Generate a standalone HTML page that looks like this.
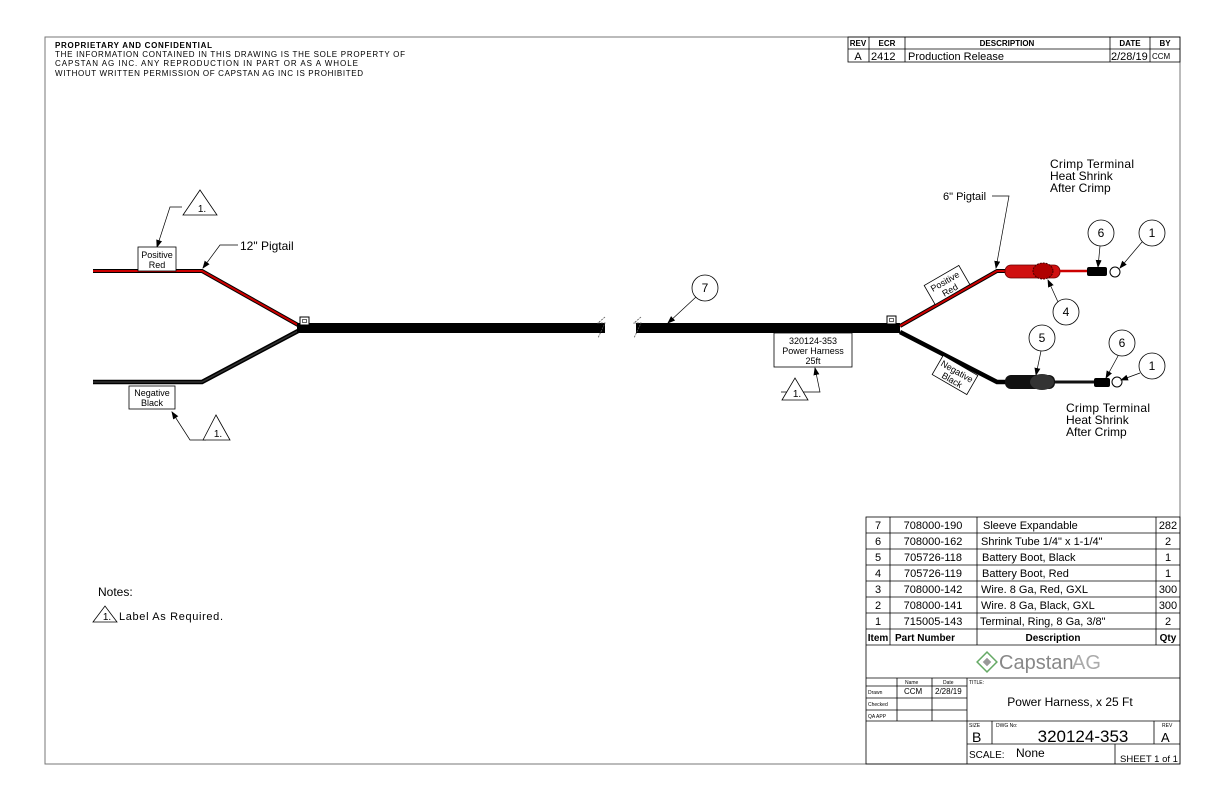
<!DOCTYPE html>
<html><head><meta charset="utf-8"><style>
html,body{margin:0;padding:0;background:#fff}
svg{display:block}
text{font-family:"Liberation Sans",sans-serif;fill:#000}
</style></head><body>
<svg width="1224" height="792" viewBox="0 0 1224 792" xmlns="http://www.w3.org/2000/svg">
<defs>
<marker id="ar" markerWidth="8" markerHeight="6" refX="7" refY="3" orient="auto" markerUnits="userSpaceOnUse"><path d="M0,0 L8,3 L0,6z" fill="#000"/></marker>
</defs>
<rect x="45" y="37" width="1135" height="727" fill="none" stroke="#777" stroke-width="1"/>
<text x="55" y="48" font-size="8" font-weight="bold" textLength="157">PROPRIETARY AND CONFIDENTIAL</text>
<text x="55" y="57" font-size="8" textLength="350">THE INFORMATION CONTAINED IN THIS DRAWING IS THE SOLE PROPERTY OF</text>
<text x="55" y="66" font-size="8" textLength="303">CAPSTAN AG INC. ANY REPRODUCTION IN PART OR AS A WHOLE</text>
<text x="55" y="76" font-size="8" textLength="308">WITHOUT WRITTEN PERMISSION OF CAPSTAN AG INC IS PROHIBITED</text>
<g stroke="#000" stroke-width="0.8" fill="none">
<rect x="848" y="37" width="332" height="25"/>
<line x1="848" y1="49" x2="1180" y2="49"/>
<line x1="869" y1="37" x2="869" y2="62"/><line x1="905" y1="37" x2="905" y2="62"/>
<line x1="1110" y1="37" x2="1110" y2="62"/><line x1="1150" y1="37" x2="1150" y2="62"/>
</g>
<g font-size="8" font-weight="bold" text-anchor="middle">
<text x="858" y="46">REV</text><text x="887" y="46">ECR</text><text x="1007" y="46">DESCRIPTION</text><text x="1130" y="46">DATE</text><text x="1165" y="46">BY</text></g>
<text x="858" y="60" font-size="11" text-anchor="middle">A</text>
<text x="871" y="60" font-size="11">2412</text>
<text x="908" y="60" font-size="11">Production Release</text>
<text x="1111" y="60" font-size="11">2/28/19</text>
<text x="1152" y="59" font-size="8">CCM</text>

<polyline points="93,271 202,271 298,325" fill="none" stroke="#000" stroke-width="4"/>
<polyline points="93,271 202,271 298,325" fill="none" stroke="#c00" stroke-width="2"/>
<polyline points="93,382 202,382 298,331" fill="none" stroke="#000" stroke-width="4.5"/>
<polyline points="93,382 202,382 298,331" fill="none" stroke="#333" stroke-width="1.5"/>
<rect x="297" y="323" width="308" height="10" fill="#000"/>
<rect x="636" y="323" width="264" height="10" fill="#000"/>
<path d="M605,317 L598,323 L605,323 L598,338" fill="none" stroke="#555" stroke-width="0.8" stroke-dasharray="2,1"/>
<path d="M641,317 L634,323 L641,323 L634,338" fill="none" stroke="#555" stroke-width="0.8" stroke-dasharray="2,1"/>
<rect x="300" y="317" width="9" height="8" fill="#fff" stroke="#000"/><rect x="302.5" y="319.5" width="4" height="3" fill="#fff" stroke="#000" stroke-width="0.6"/>
<rect x="887" y="316" width="9" height="8" fill="#fff" stroke="#000"/><rect x="889.5" y="318.5" width="4" height="3" fill="#fff" stroke="#000" stroke-width="0.6"/>

<polyline points="900,326 997,271 1007,271" fill="none" stroke="#000" stroke-width="4"/>
<polyline points="900,326 997,271 1007,271" fill="none" stroke="#c00" stroke-width="2"/>
<polyline points="900,332 997,382 1007,382" fill="none" stroke="#000" stroke-width="4.5"/>
<rect x="1005" y="265" width="55" height="13" rx="6" fill="#d01010" stroke="#600" stroke-width="0.8"/>
<ellipse cx="1043" cy="271" rx="10" ry="8" fill="#b00000" stroke="#400" stroke-dasharray="2,1"/>
<line x1="1060" y1="271" x2="1087" y2="271" stroke="#c00" stroke-width="2.5"/>
<rect x="1087" y="267" width="20" height="9" rx="2" fill="#000"/>
<circle cx="1115" cy="272" r="5" fill="#fff" stroke="#000"/>
<rect x="1005" y="375" width="50" height="14" rx="6" fill="#111"/>
<ellipse cx="1042" cy="382" rx="12" ry="8" fill="#333"/>
<line x1="1055" y1="382" x2="1095" y2="382" stroke="#111" stroke-width="3"/>
<rect x="1094" y="378" width="16" height="9" rx="2" fill="#000"/>
<circle cx="1117" cy="382" r="5" fill="#fff" stroke="#000"/>

<g fill="#fff" stroke="#000" stroke-width="0.8">
<circle cx="705" cy="288" r="13"/><circle cx="1101" cy="233" r="13"/><circle cx="1152" cy="233" r="13"/>
<circle cx="1066" cy="312" r="13"/><circle cx="1042" cy="338" r="13"/><circle cx="1122" cy="343" r="13"/><circle cx="1152" cy="366" r="13"/>
</g>
<g font-size="12" text-anchor="middle">
<text x="705" y="292">7</text><text x="1101" y="237">6</text><text x="1152" y="237">1</text>
<text x="1066" y="316">4</text><text x="1042" y="342">5</text><text x="1122" y="347">6</text><text x="1152" y="370">1</text>
</g>
<g stroke="#000" stroke-width="0.7" fill="none" marker-end="url(#ar)">
<line x1="696" y1="297" x2="668" y2="323"/>
<line x1="1100" y1="246" x2="1098" y2="267"/>
<line x1="1142" y1="242" x2="1120" y2="268"/>
<line x1="1058" y1="302" x2="1048" y2="280"/>
<line x1="1041" y1="351" x2="1036" y2="375"/>
<line x1="1118" y1="356" x2="1106" y2="378"/>
<line x1="1140" y1="373" x2="1121" y2="380"/>
<polyline points="238,245 220,245 203,268"/>
<polyline points="992,196 1009,196 996,268"/>
<polyline points="182,207 170,207 157,247"/>
<polyline points="206,440 190,440 172,412"/>
<polyline points="781,392 820,392 815,368"/>
</g>
<text x="240" y="250" font-size="12">12" Pigtail</text>
<text x="943" y="200" font-size="11">6" Pigtail</text>
<g font-size="12"><text x="1050" y="168" textLength="84">Crimp Terminal</text><text x="1050" y="180">Heat Shrink</text><text x="1050" y="192">After Crimp</text>
<text x="1066" y="412" textLength="84">Crimp Terminal</text><text x="1066" y="424">Heat Shrink</text><text x="1066" y="436">After Crimp</text></g>

<g fill="#fff" stroke="#000" stroke-width="0.8">
<rect x="138" y="247" width="38" height="24"/><rect x="129" y="386" width="46" height="23"/><rect x="774" y="333" width="78" height="34"/>
<rect x="-20" y="-11" width="40" height="22" transform="translate(947,285) rotate(-30)"/>
<rect x="-20" y="-11" width="40" height="22" transform="translate(955,375) rotate(30)"/>
</g>
<g font-size="9" text-anchor="middle">
<text x="157" y="258">Positive</text><text x="157" y="268">Red</text>
<text x="152" y="396">Negative</text><text x="152" y="406">Black</text>
<text x="813" y="344">320124-353</text><text x="813" y="354">Power Harness</text><text x="813" y="364">25ft</text>
<g transform="translate(947,285) rotate(-30)"><text x="0" y="-1">Positive</text><text x="0" y="9">Red</text></g>
<g transform="translate(955,375) rotate(30)"><text x="0" y="-1">Negative</text><text x="0" y="9">Black</text></g>
</g>
<g fill="#fff" stroke="#000" stroke-width="0.8">
<path d="M183,215 L200,190 L217,215z"/><path d="M203,440 L216,415 L230,440z"/><path d="M782,400 L795,378 L808,400z"/><path d="M93,622 L105,606 L117,622z"/>
</g>
<g font-size="10" text-anchor="middle"><text x="202" y="212">1.</text><text x="218" y="437">1.</text><text x="797" y="397">1.</text><text x="107" y="620">1.</text></g>
<text x="98" y="596" font-size="12">Notes:</text>
<text x="119" y="620" font-size="11" textLength="104">Label As Required.</text>

<g stroke="#000" stroke-width="0.8" fill="none">
<rect x="866" y="517" width="314" height="247"/>
<line x1="866" y1="533" x2="1180" y2="533"/><line x1="866" y1="549" x2="1180" y2="549"/><line x1="866" y1="565" x2="1180" y2="565"/>
<line x1="866" y1="581" x2="1180" y2="581"/><line x1="866" y1="597" x2="1180" y2="597"/><line x1="866" y1="613" x2="1180" y2="613"/>
<line x1="866" y1="629" x2="1180" y2="629"/><line x1="866" y1="645" x2="1180" y2="645"/><line x1="866" y1="678" x2="1180" y2="678"/>
<line x1="890" y1="517" x2="890" y2="645"/><line x1="977" y1="517" x2="977" y2="645"/><line x1="1156" y1="517" x2="1156" y2="645"/>
<line x1="866" y1="686" x2="967" y2="686"/><line x1="866" y1="698" x2="967" y2="698"/><line x1="866" y1="710" x2="967" y2="710"/><line x1="866" y1="721" x2="967" y2="721"/>
<line x1="897" y1="678" x2="897" y2="721"/><line x1="932" y1="678" x2="932" y2="721"/><line x1="967" y1="678" x2="967" y2="764"/>
<line x1="967" y1="721" x2="1180" y2="721"/><line x1="967" y1="744" x2="1180" y2="744"/>
<line x1="992" y1="721" x2="992" y2="744"/><line x1="1154" y1="721" x2="1154" y2="744"/><line x1="1115" y1="744" x2="1115" y2="764"/>
</g>
<g font-size="11">
<g text-anchor="middle"><text x="878" y="529">7</text><text x="878" y="545">6</text><text x="878" y="561">5</text><text x="878" y="577">4</text><text x="878" y="593">3</text><text x="878" y="609">2</text><text x="878" y="625">1</text>
<text x="933" y="529">708000-190</text><text x="933" y="545">708000-162</text><text x="933" y="561">705726-118</text><text x="933" y="577">705726-119</text><text x="933" y="593">708000-142</text><text x="933" y="609">708000-141</text><text x="933" y="625">715005-143</text>
<text x="1168" y="529">282</text><text x="1168" y="545">2</text><text x="1168" y="561">1</text><text x="1168" y="577">1</text><text x="1168" y="593">300</text><text x="1168" y="609">300</text><text x="1168" y="625">2</text></g>
<text x="983" y="529">Sleeve Expandable</text><text x="981" y="545">Shrink Tube 1/4" x 1-1/4"</text><text x="982" y="561">Battery Boot, Black</text><text x="982" y="577">Battery Boot, Red</text>
<text x="981" y="593">Wire. 8 Ga, Red, GXL</text><text x="981" y="609">Wire. 8 Ga, Black, GXL</text><text x="980" y="625">Terminal, Ring, 8 Ga, 3/8"</text>
</g>
<g font-size="10" font-weight="bold" text-anchor="middle"><text x="878" y="641">Item</text><text x="925" y="641">Part Number</text><text x="1053" y="641">Description</text><text x="1168" y="641">Qty</text></g>
<g transform="translate(987,662) rotate(45)"><rect x="-7" y="-7" width="14" height="14" fill="none" stroke="#6a6" stroke-width="1.5"/><rect x="-3" y="-3" width="6" height="6" fill="#999"/></g>
<text x="999" y="669" font-size="20" style="fill:#888">Capstan</text><text x="1072" y="669" font-size="20" style="fill:#aaa">AG</text>
<g font-size="5"><text x="905" y="684">Name</text><text x="943" y="684">Date</text><text x="868" y="694">Drawn</text><text x="868" y="706">Checked</text><text x="868" y="718">QA APP</text><text x="969" y="684">TITLE:</text>
<text x="969" y="727">SIZE</text><text x="996" y="727">DWG No:</text><text x="1162" y="727">REV</text></g>
<g font-size="8"><text x="904" y="694">CCM</text><text x="935" y="694">2/28/19</text></g>
<text x="1070" y="706" font-size="12" text-anchor="middle">Power Harness, x 25 Ft</text>
<text x="972" y="742" font-size="14">B</text><text x="1083" y="742" font-size="17" text-anchor="middle">320124-353</text><text x="1161" y="742" font-size="13">A</text>
<text x="969" y="758" font-size="10">SCALE:</text><text x="1016" y="757" font-size="12">None</text><text x="1120" y="762" font-size="9.5">SHEET 1 of 1</text>
</svg>
</body></html>
